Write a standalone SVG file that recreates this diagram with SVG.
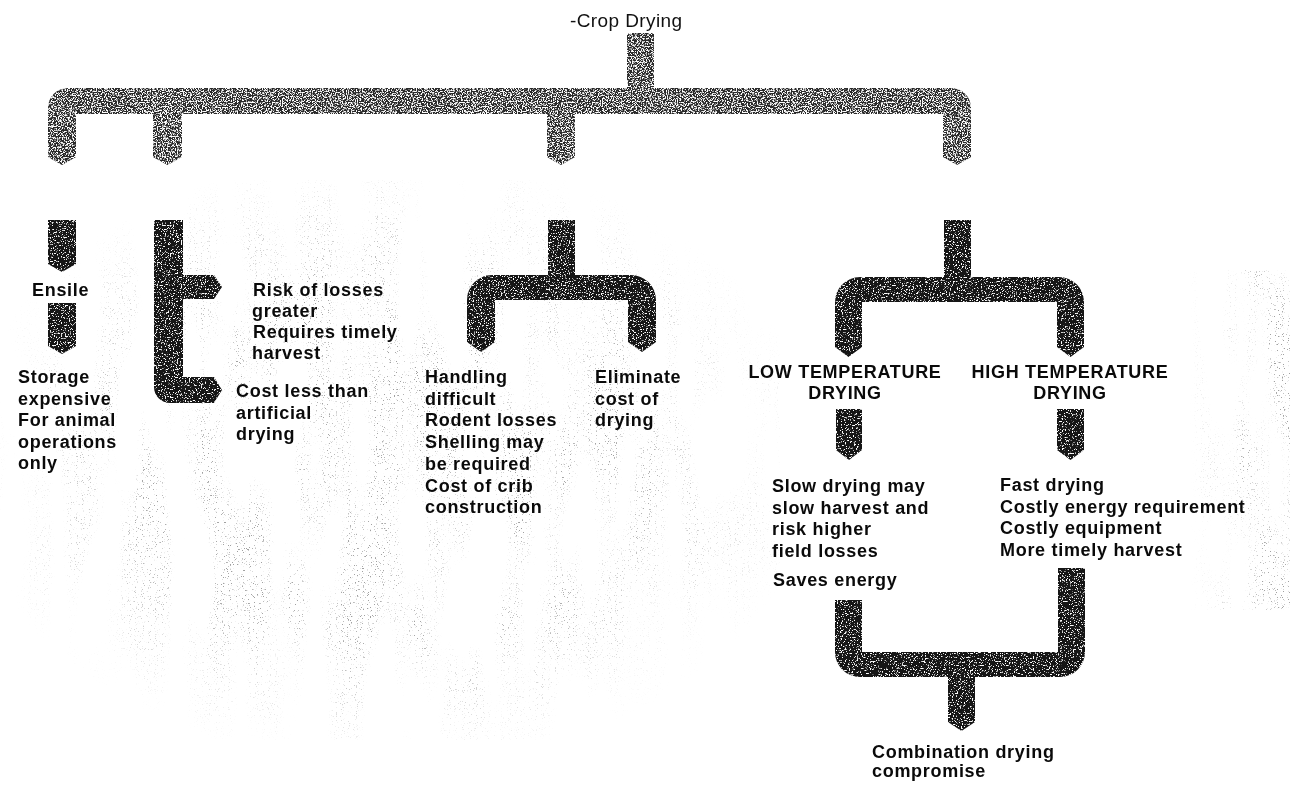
<svg xmlns="http://www.w3.org/2000/svg" width="1290" height="787" viewBox="0 0 1290 787">
<defs>
<style>
.t{font-family:"Liberation Sans",Arial,Helvetica,sans-serif;font-weight:bold;font-size:18px;letter-spacing:0.7px;fill:#0a0a0a}
.title{font-family:"Liberation Sans",Arial,Helvetica,sans-serif;font-size:19px;letter-spacing:0.4px;fill:#111}
.pipe{fill:#181818;filter:url(#grain)}
.trunk{fill:#2a2a2a;filter:url(#grainLight)}
</style>
<filter id="grain" x="-5%" y="-5%" width="110%" height="110%">
<feTurbulence type="fractalNoise" baseFrequency="0.75" numOctaves="2" seed="2" result="n"/>
<feColorMatrix in="n" type="matrix" values="0 0 0 0 1  0 0 0 0 1  0 0 0 0 1  9 0 0 0 -5.3" result="w"/>
<feComposite in="w" in2="SourceAlpha" operator="in" result="wi"/>
<feMerge><feMergeNode in="SourceGraphic"/><feMergeNode in="wi"/></feMerge>
</filter>
<filter id="grainLight" x="-2%" y="-5%" width="104%" height="110%">
<feTurbulence type="fractalNoise" baseFrequency="0.8" numOctaves="2" seed="5" result="n"/>
<feColorMatrix in="n" type="matrix" values="0 0 0 0 1  0 0 0 0 1  0 0 0 0 1  7 0 0 0 -3.4" result="w"/>
<feComposite in="w" in2="SourceAlpha" operator="in" result="wi"/>
<feMerge><feMergeNode in="SourceGraphic"/><feMergeNode in="wi"/></feMerge>
</filter>
<filter id="speck" x="0" y="0" width="100%" height="100%">
<feTurbulence type="fractalNoise" baseFrequency="0.85" numOctaves="2" seed="9" result="hf"/>
<feColorMatrix in="hf" type="matrix" values="0 0 0 0 0.12  0 0 0 0 0.12  0 0 0 0 0.12  -10 0 0 0 3.5" result="dots"/>
<feTurbulence type="fractalNoise" baseFrequency="0.03 0.006" numOctaves="2" seed="4" result="lf"/>
<feColorMatrix in="lf" type="matrix" values="0 0 0 0 0  0 0 0 0 0  0 0 0 0 0  5 0 0 0 -2.1" result="patch"/>
<feComposite in="dots" in2="patch" operator="in"/>
</filter>
<radialGradient id="fade" cx="50%" cy="50%" r="55%">
<stop offset="0.55" stop-color="#fff"/>
<stop offset="1" stop-color="#000"/>
</radialGradient>
<linearGradient id="fadeR" x1="0" y1="0" x2="1" y2="0">
<stop offset="0" stop-color="#000"/>
<stop offset="0.6" stop-color="#fff"/>
</linearGradient>
<mask id="mL" maskUnits="userSpaceOnUse" x="0" y="180" width="780" height="560"><rect x="0" y="180" width="780" height="560" fill="url(#fade)"/></mask>
<mask id="mR" maskUnits="userSpaceOnUse" x="1190" y="270" width="100" height="340"><rect x="1190" y="270" width="100" height="340" fill="url(#fadeR)"/></mask>
</defs>
<rect width="1290" height="787" fill="#ffffff"/>
<g id="background-speckle" opacity="0.6">
<rect x="0" y="180" width="780" height="560" fill="#000" filter="url(#speck)" mask="url(#mL)"/>
<rect x="1190" y="270" width="100" height="340" fill="#000" filter="url(#speck)" mask="url(#mR)"/>
</g>
<g id="connectors">
<rect class="trunk" x="627" y="33" width="27" height="60"/>
<path class="trunk" d="M48,157 L48,108 A20,20 0 0 1 68,88 L951,88 A20,20 0 0 1 971,108 L971,157 L957,165 L943,157 L943,114 L575,114 L575,157 L561,165 L547,157 L547,114 L182,114 L182,157 L167.5,165 L153,157 L153,114 L76,114 L76,157 L62,165 Z"/>
<path class="pipe" d="M48,220 L76,220 L76,264 L62,272 L48,264 Z"/>
<path class="pipe" d="M48,303 L76,303 L76,346 L62,354 L48,346 Z"/>
<path class="pipe" d="M154,220 L183,220 L183,275 L214,275 L222,287 L214,299 L183,299 L183,377 L214,377 L222,390 L214,403 L170,403 A16,16 0 0 1 154,387 Z"/>
<path class="pipe" d="M548,220 L575,220 L575,275 L631,275 A25,25 0 0 1 656,300 L656,342 L642,352 L628,342 L628,300 L495,300 L495,342 L481,352 L467,342 L467,300 A25,25 0 0 1 492,275 L548,275 Z"/>
<path class="pipe" d="M944,220 L971,220 L971,277 L1059,277 A25,25 0 0 1 1084,302 L1084,347 L1070.5,357 L1057,347 L1057,302 L862,302 L862,347 L848.5,357 L835,347 L835,302 A25,25 0 0 1 860,277 L944,277 Z"/>
<path class="pipe" d="M836,409 L862,409 L862,450 L849,460 L836,450 Z"/>
<path class="pipe" d="M1057,409 L1084,409 L1084,450 L1070.5,460 L1057,450 Z"/>
<path class="pipe" d="M835,600 L862,600 L862,652 L1058,652 L1058,568 L1085,568 L1085,652 A25,25 0 0 1 1060,677 L975,677 L975,722 L961.5,731 L948,722 L948,677 L860,677 A25,25 0 0 1 835,652 Z"/>
</g>
<g id="crop-drying"><text class="title" x="570" y="27">-Crop Drying</text></g>
<g id="ensile"><text class="t" x="32" y="296">Ensile</text></g>
<g id="ensile-notes"><text class="t" x="18" y="383">Storage<tspan x="18" dy="21.5">expensive</tspan><tspan x="18" dy="21.5">For animal</tspan><tspan x="18" dy="21.5">operations</tspan><tspan x="18" dy="21.5">only</tspan></text></g>
<g id="field-drying-risks"><text class="t" x="253" y="296">Risk of losses<tspan x="252" dy="21">greater</tspan><tspan x="253" dy="21">Requires timely</tspan><tspan x="252" dy="21">harvest</tspan></text></g>
<g id="field-drying-cost"><text class="t" x="236" y="397">Cost less than<tspan x="236" dy="21.5">artificial</tspan><tspan x="236" dy="21.5">drying</tspan></text></g>
<g id="crib-cons"><text class="t" x="425" y="383">Handling<tspan x="425" dy="21.7">difficult</tspan><tspan x="425" dy="21.7">Rodent losses</tspan><tspan x="425" dy="21.7">Shelling may</tspan><tspan x="425" dy="21.7">be required</tspan><tspan x="425" dy="21.7">Cost of crib</tspan><tspan x="425" dy="21.7">construction</tspan></text></g>
<g id="crib-pros"><text class="t" x="595" y="383">Eliminate<tspan x="595" dy="21.7">cost of</tspan><tspan x="595" dy="21.7">drying</tspan></text></g>
<g id="low-temp"><text class="t" x="845" y="378" text-anchor="middle">LOW TEMPERATURE<tspan x="845" dy="21">DRYING</tspan></text></g>
<g id="high-temp"><text class="t" x="1070" y="378" text-anchor="middle">HIGH TEMPERATURE<tspan x="1070" dy="21">DRYING</tspan></text></g>
<g id="low-temp-notes"><text class="t" x="772" y="492">Slow drying may<tspan x="772" dy="21.5">slow harvest and</tspan><tspan x="772" dy="21.5">risk higher</tspan><tspan x="772" dy="21.5">field losses</tspan><tspan x="773" dy="29">Saves energy</tspan></text></g>
<g id="high-temp-notes"><text class="t" x="1000" y="491">Fast drying<tspan x="1000" dy="21.5">Costly energy requirement</tspan><tspan x="1000" dy="21.5">Costly equipment</tspan><tspan x="1000" dy="21.5">More timely harvest</tspan></text></g>
<g id="combination"><text class="t" x="872" y="758">Combination drying<tspan x="872" dy="19">compromise</tspan></text></g>
</svg>
